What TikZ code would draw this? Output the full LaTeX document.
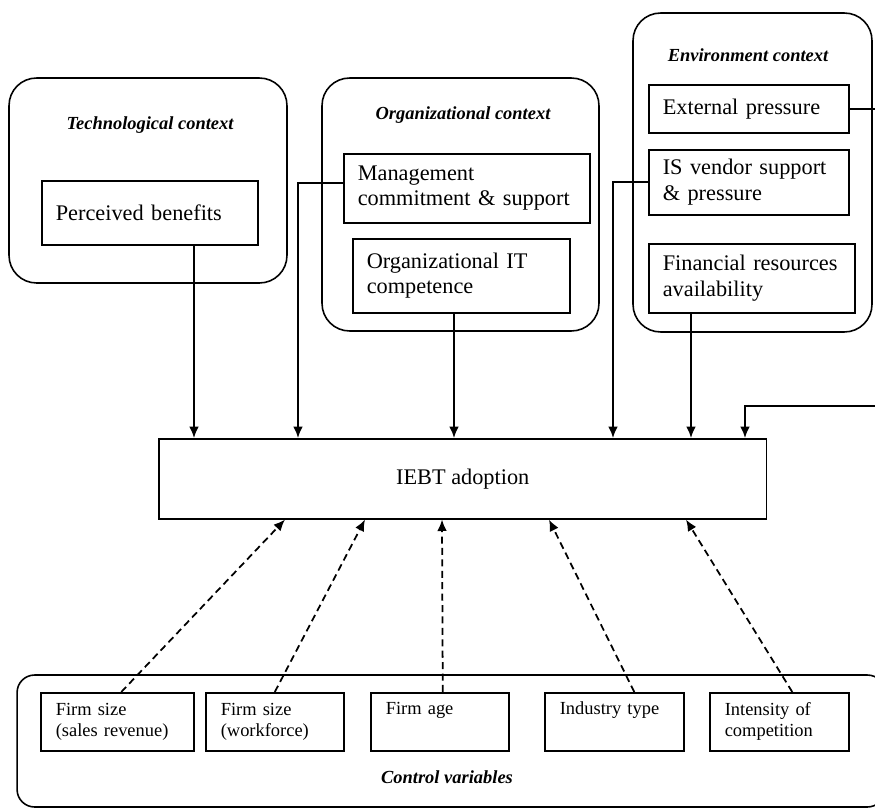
\documentclass[tikz,border=0pt]{standalone}
\usepackage{fontspec}
\setmainfont{Liberation Serif}
\usetikzlibrary{positioning,arrows,arrows.meta,shapes,calc}

\begin{document}
\begin{tikzpicture}[x=0.02cm, y=-0.02cm, >={Latex[length=6.5pt, width=5.5pt]},
                    ctx/.style={rectangle, draw, rounded corners=0.55cm, line width=0.9pt},
                    fac/.style={rectangle, draw, line width=0.9pt, align=left, anchor=north west,
                                inner xsep=0.28cm, font=\fontsize{12.7}{14.5}\selectfont},
                    ctl/.style={rectangle, draw, line width=0.9pt, align=left, anchor=north west,
                                inner xsep=0.3cm, minimum height=1.16cm, font=\fontsize{10.5}{12}\selectfont},
                    ttl/.style={font=\fontsize{10.5}{12}\selectfont\bfseries\itshape},
                    arr/.style={->, line width=1pt},
                    dsh/.style={->, line width=1pt, dash pattern=on 4pt off 2.5pt}]
                    \useasboundingbox (0,0) rectangle (875,808);
                    \clip (0,0) rectangle (875,808);

                    % Context frames
                    \node[ctx, minimum width=5.56cm, minimum height=4.10cm] (tech) at (148,180.5) {};
                    \node[ctx, minimum width=5.54cm, minimum height=5.06cm] (org) at (460.5,204.5) {};
                    \node[ctx, minimum width=4.78cm, minimum height=6.38cm] (env) at (752.5,172.5) {};
                    \node[ctx, rounded corners=0.35cm, minimum width=17.36cm, minimum height=2.64cm] (ctrl) at (451,741) {};

                    \node[ttl] (techT) at (150,125) {Technological context};
                    \node[ttl] (orgT) at (463,115) {Organizational context};
                    \node[ttl] (envT) at (748,55) {Environment context};
                    \node[ttl] (ctrlT) at (447,777) {Control variables};

                    % Factors
                    \node[fac, text width=3.76cm, minimum height=1.28cm] (pb) at (41,180) {Perceived benefits};
                    \node[fac, text width=4.36cm, minimum height=1.38cm] (mgmt) at (343,153) {Management\\commitment \& support};
                    \node[fac, text width=3.78cm, minimum height=1.48cm] (orgit) at (352,238) {Organizational IT\\competence};
                    \node[fac, text width=3.44cm, minimum height=0.96cm] (ext) at (648,84) {External pressure};
                    \node[fac, text width=3.44cm, minimum height=1.30cm] (isv) at (648,149) {IS vendor support\\\& pressure};
                    \node[fac, text width=3.56cm, minimum height=1.38cm] (fin) at (648,243) {Financial resources\\availability};

                    % Outcome
                    \node[rectangle, draw, line width=0.9pt, anchor=north west, minimum width=12.16cm, minimum height=1.6cm,
                          font=\fontsize{12.7}{14.5}\selectfont] (iebt) at (158,438) {IEBT adoption};

                    % Controls
                    \node[ctl, text width=2.46cm] (c1) at (40,692) {Firm size\\(sales revenue)};
                    \node[ctl, text width=2.16cm] (c2) at (205,692) {Firm size\\(workforce)};
                    \node[ctl, text width=2.16cm] (c3) at (370,692) {Firm age\\\strut};
                    \node[ctl, text width=2.18cm] (c4) at (544,692) {Industry type\\\strut};
                    \node[ctl, text width=2.18cm] (c5) at (709,692) {Intensity of\\competition};

                    % Arrow columns
                    \coordinate (xa) at (194,0);
                    \coordinate (xb) at (298,0);
                    \coordinate (xc) at (454,0);
                    \coordinate (xd) at (613,0);
                    \coordinate (xe) at (691,0);
                    \coordinate (xf) at (745,0);
                    \coordinate (epR) at (877,406);

                    \draw[arr] (pb.south -| xa) -- (iebt.north -| xa);
                    \draw[arr] ([yshift=0.1cm]mgmt.west) -| (iebt.north -| xb);
                    \draw[arr] (orgit.south -| xc) -- (iebt.north -| xc);
                    \draw[arr] (isv.west) -| (iebt.north -| xd);
                    \draw[arr] (fin.south -| xe) -- (iebt.north -| xe);
                    \draw[arr] (ext.east) -| (epR) -| (iebt.north -| xf);

                    % Control effects
                    \draw[dsh] ($(c1.north)+(4,0)$) -- ($(iebt.south west)+(127,0)$);
                    \draw[dsh] (c2.north) -- ($(iebt.south west)+(207,0)$);
                    \draw[dsh] ($(c3.north)+(3,0)$) -- ($(iebt.south west)+(284,0)$);
                    \draw[dsh] ($(c4.north)+(20,0)$) -- ($(iebt.south west)+(391,0)$);
                    \draw[dsh] ($(c5.north)+(13,0)$) -- ($(iebt.south west)+(528,0)$);
                \end{tikzpicture}
\end{document}
